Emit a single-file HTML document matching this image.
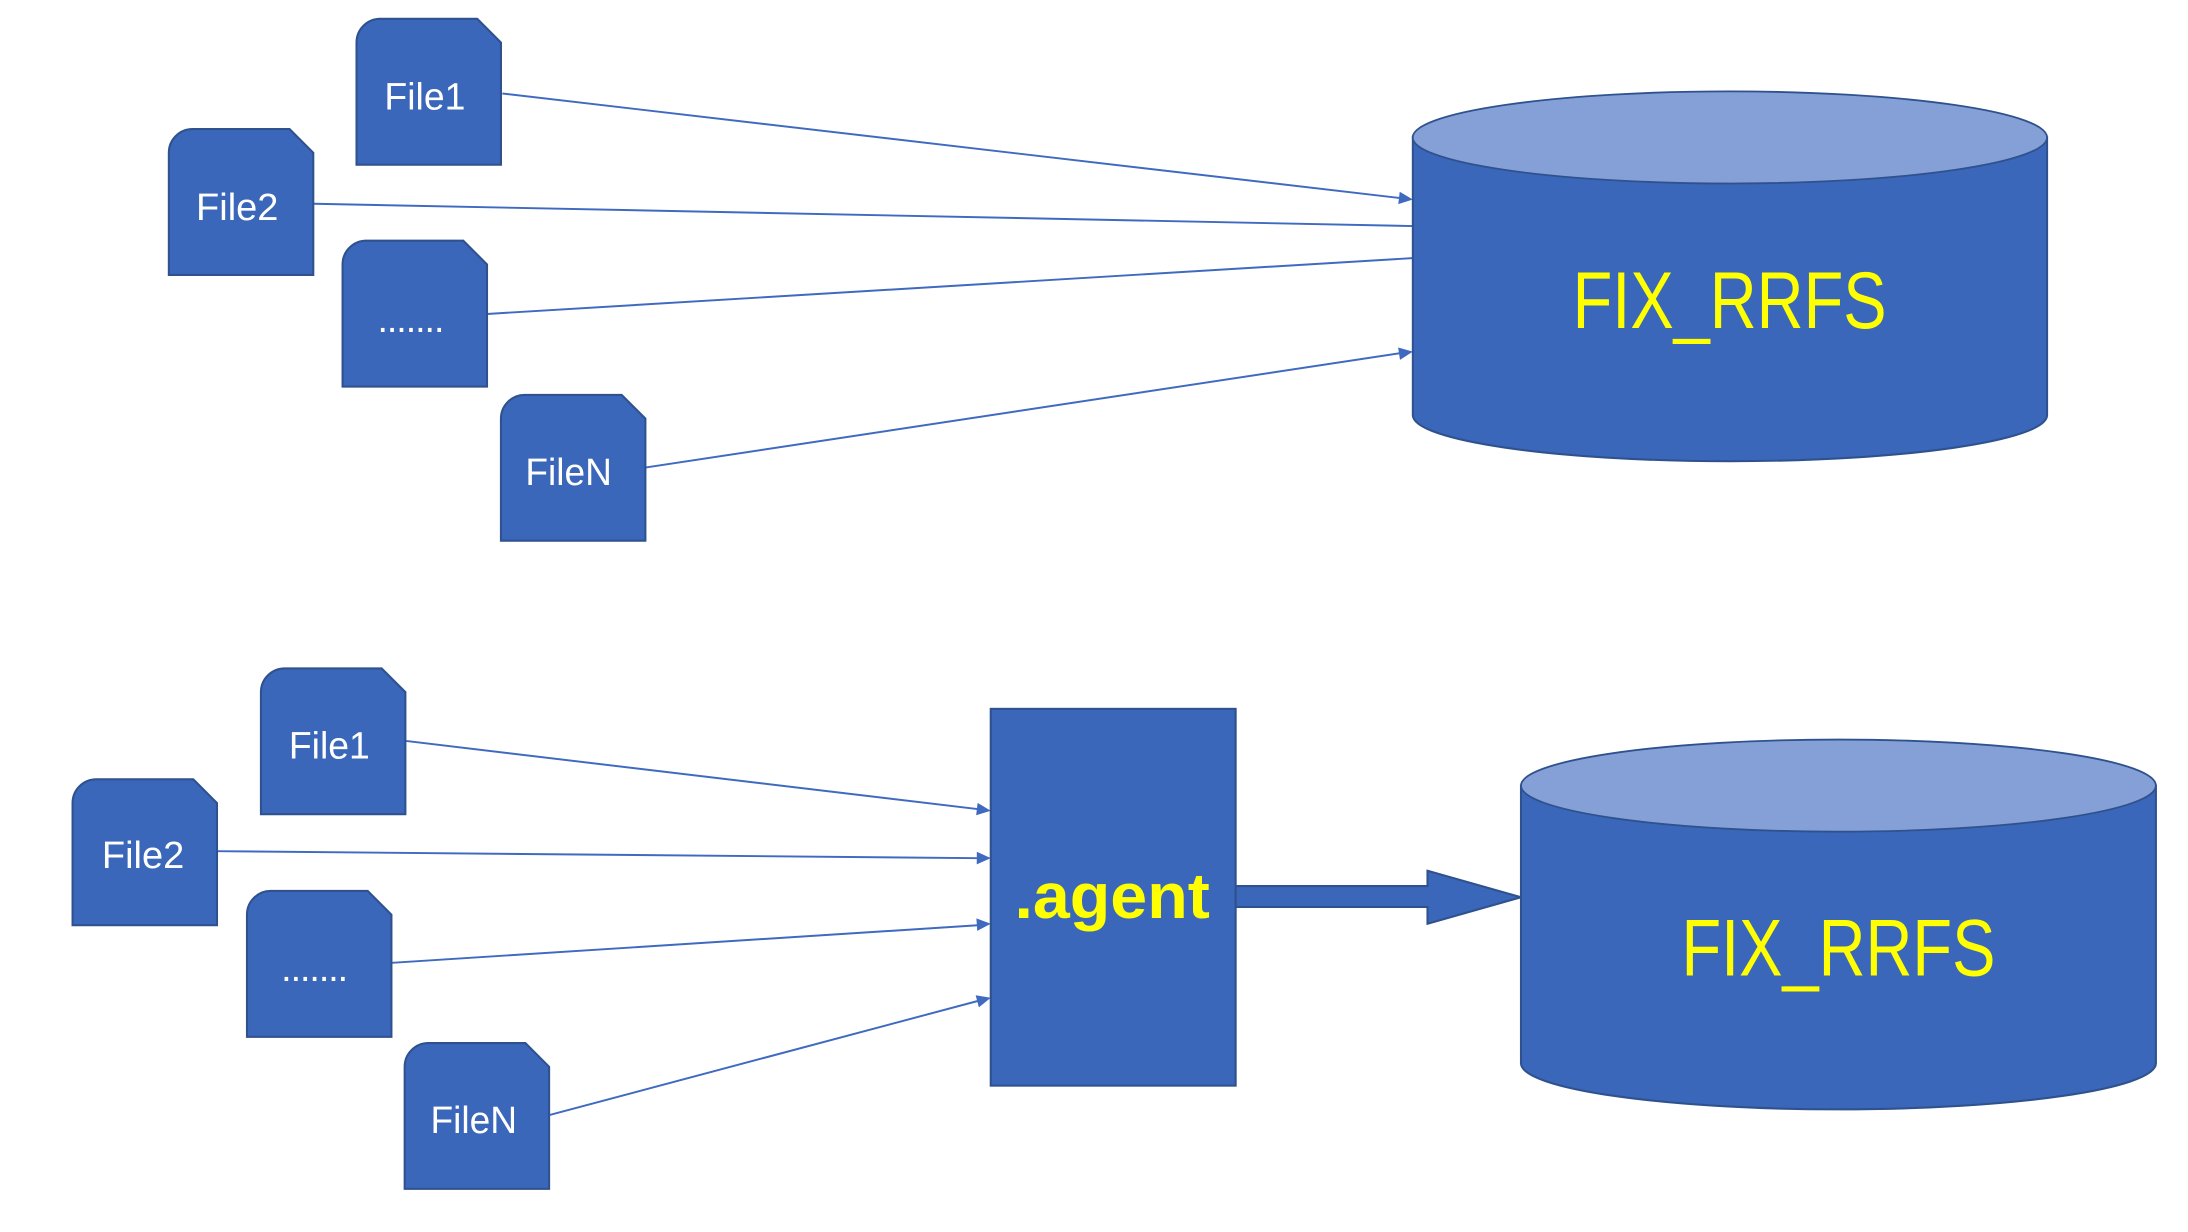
<!DOCTYPE html>
<html>
<head>
<meta charset="utf-8">
<style>
html,body{margin:0;padding:0;background:#fff;width:2188px;height:1232px;overflow:hidden}
svg{display:block}
.c{fill:#3b67ba;stroke:#2f528f;stroke-width:1.5}
.t{fill:#85a0d6;stroke:#2f528f;stroke-width:1.3}
.l{stroke:#3f6ac0;stroke-width:1.4;fill:none}
.a{fill:#3f6ac0}
text{font-family:"Liberation Sans",sans-serif}
.w{fill:#fff;font-size:27px}
.y{fill:#ff0;font-size:58px}
</style>
</head>
<body>
<svg width="2188" height="1232" viewBox="0 0 1568 882.9" xmlns="http://www.w3.org/2000/svg">
<rect width="1568" height="883" fill="#fff"/>
<defs>
<path id="card" d="M0 17A17 17 0 0 1 17 0H86.5L103.5 17V104.5H0Z"/>
<path id="head" d="M0 0L-10 -4.5V4.5Z"/>
</defs>

<!-- top lines -->
<line class="l" x1="360" y1="67" x2="1004" y2="142"/>
<line class="l" x1="225" y1="146" x2="1012" y2="162"/>
<line class="l" x1="349" y1="225" x2="1012" y2="185"/>
<line class="l" x1="463" y1="335" x2="1004" y2="253"/>
<use href="#head" class="a" transform="translate(1012.5,143) rotate(6.6)"/>
<use href="#head" class="a" transform="translate(1012.5,252) rotate(-8.6)"/>

<!-- bottom lines -->
<line class="l" x1="291" y1="531" x2="702" y2="580"/>
<line class="l" x1="156" y1="610" x2="702" y2="615"/>
<line class="l" x1="281" y1="690" x2="702" y2="663"/>
<line class="l" x1="394" y1="799" x2="702" y2="717"/>
<use href="#head" class="a" transform="translate(710,581) rotate(6.8)"/>
<use href="#head" class="a" transform="translate(710,615) rotate(0.5)"/>
<use href="#head" class="a" transform="translate(710,662) rotate(-3.7)"/>
<use href="#head" class="a" transform="translate(710,715) rotate(-14.9)"/>

<!-- top cards -->
<use href="#card" class="c" x="255.5" y="13.5"/>
<use href="#card" class="c" x="121" y="92.5"/>
<use href="#card" class="c" x="245.5" y="172.5"/>
<use href="#card" class="c" x="359" y="283"/>
<text class="w" x="275.5" y="78.5" textLength="58" lengthAdjust="spacingAndGlyphs">File1</text>
<text class="w" x="140.5" y="157.5" textLength="59" lengthAdjust="spacingAndGlyphs">File2</text>
<text class="w" x="270.5" y="238" textLength="48" lengthAdjust="spacing">.......</text>
<text class="w" x="376.5" y="347.5" textLength="62" lengthAdjust="spacingAndGlyphs">FileN</text>

<!-- bottom cards -->
<use href="#card" class="c" x="187" y="479"/>
<use href="#card" class="c" x="52" y="558.5"/>
<use href="#card" class="c" x="177" y="638.5"/>
<use href="#card" class="c" x="290" y="747.5"/>
<text class="w" x="207" y="543.5" textLength="58" lengthAdjust="spacingAndGlyphs">File1</text>
<text class="w" x="73" y="622" textLength="59" lengthAdjust="spacingAndGlyphs">File2</text>
<text class="w" x="201.5" y="703" textLength="48" lengthAdjust="spacing">.......</text>
<text class="w" x="308.5" y="812" textLength="62" lengthAdjust="spacingAndGlyphs">FileN</text>

<!-- top cylinder -->
<path class="c" d="M1012.5 98.5V297.5C1012.5 315.7 1114 330.5 1239.7 330.5S1467 315.7 1467 297.5V98.5Z"/>
<ellipse class="t" cx="1239.7" cy="98.5" rx="227.3" ry="33"/>
<text class="y" x="1127" y="235" textLength="225" lengthAdjust="spacingAndGlyphs">FIX_RRFS</text>

<!-- agent -->
<rect class="c" x="710" y="508" width="175.5" height="270"/>
<text x="727" y="658" fill="#ff0" font-size="46" font-weight="700" textLength="140" lengthAdjust="spacingAndGlyphs">.agent</text>

<!-- block arrow -->
<path class="c" d="M885.5 635H1023V624L1090 643L1023 662V650H885.5Z"/>

<!-- bottom cylinder -->
<path class="c" d="M1090 563V762C1090 780.2 1191.5 795 1317.5 795S1545 780.2 1545 762V563Z"/>
<ellipse class="t" cx="1317.5" cy="563" rx="227.5" ry="33"/>
<text class="y" x="1205" y="699" textLength="225" lengthAdjust="spacingAndGlyphs">FIX_RRFS</text>
</svg>
</body>
</html>
